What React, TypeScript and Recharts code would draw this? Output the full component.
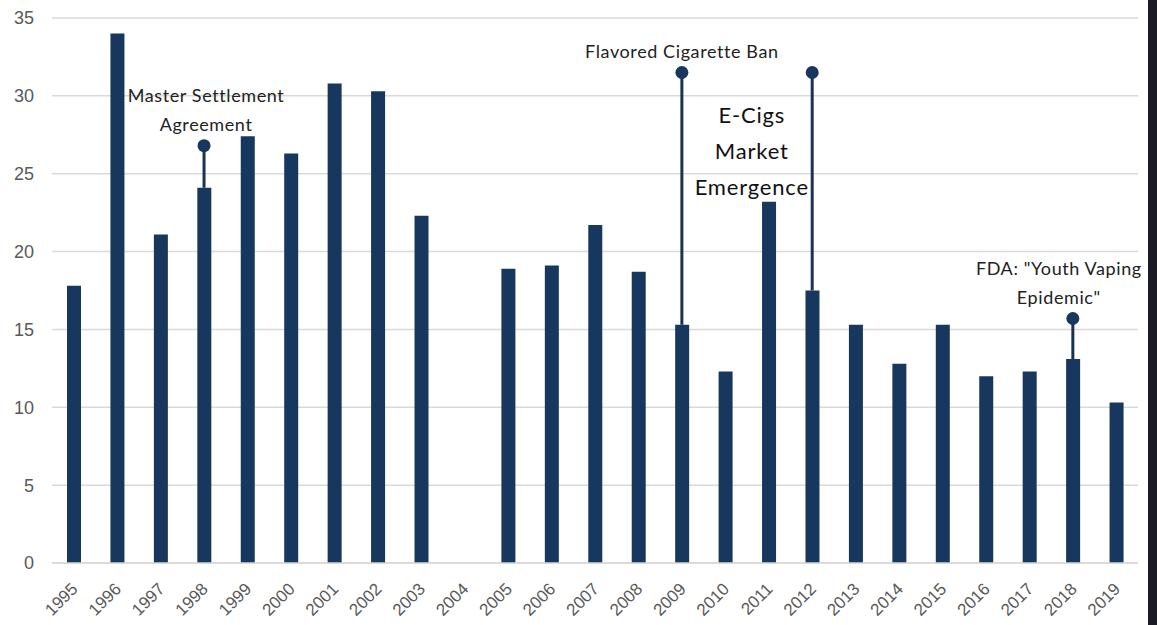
import { ComposedChart, Bar, XAxis, YAxis, CartesianGrid, ReferenceLine, ReferenceDot } from 'recharts'

const years = ['1995', '1996', '1997', '1998', '1999', '2000', '2001', '2002', '2003', '2004', '2005', '2006', '2007', '2008', '2009', '2010', '2011', '2012', '2013', '2014', '2015', '2016', '2017', '2018', '2019']
const rates = [17.8, 34.0, 21.1, 24.1, 27.4, 26.3, 30.8, 30.3, 22.3, 0, 18.9, 19.1, 21.7, 18.7, 15.3, 12.3, 23.2, 17.5, 15.3, 12.8, 15.3, 12.0, 12.3, 13.1, 10.3]
const yTicks = [0, 5, 10, 15, 20, 25, 30, 35]

// lollipop annotations
const markYears = ['1998', '2009', '2012', '2018']
const markTops = [26.8, 31.5, 31.5, 15.7]
const markLabels = [
  ['Master Settlement', 'Agreement'],
  ['Flavored Cigarette Ban'],
  [],
  ['FDA: "Youth Vaping', 'Epidemic"'],
]
const markLabelShift = [2, 0, 0, -14]

const emergenceYear = '2011'
const emergenceLines = ['E-Cigs', 'Market', 'Emergence']

const data = years.map((y, i) => ({ year: y, rate: rates[i] }))

const NAVY = '#17375E'
const LINE = '#1B3353'
const annFont = 'Lato, "Open Sans", sans-serif'

const XTick = (props: any) => {
  const { x, y, payload } = props
  const tx = x + 5
  const ty = y + 19
  return (
    <text x={tx} y={ty} textAnchor="end" fill="#595959" fontSize={17} fontFamily='"Liberation Sans", Arial, sans-serif' transform={`rotate(-45, ${tx}, ${ty})`}>
      {payload.value}
    </text>
  )
}

const MarkDot = (lines: string[], shift: number) => (props: any) => {
  const { cx, cy } = props
  const n = lines.length
  return (
    <g>
      <circle cx={cx} cy={cy} r={6.5} fill={NAVY} />
      {lines.map((t, i) => (
        <text key={i} x={cx + shift} y={cy - 15 - (n - 1 - i) * 29} textAnchor="middle" fill="#222" fontSize={18} letterSpacing={0.6} fontFamily={annFont}>
          {t}
        </text>
      ))}
    </g>
  )
}

const EmergenceText = (props: any) => {
  const { cx, cy } = props
  return (
    <g>
      {emergenceLines.map((t, i) => (
        <text key={i} x={cx - 17} y={cy + 105 + i * 36} textAnchor="middle" fill="#111" fontSize={22} letterSpacing={0.8} fontFamily={annFont}>
          {t}
        </text>
      ))}
    </g>
  )
}

export default function App() {
  return (
    <div style={{ position: 'relative', width: 1157, height: 625, background: '#fff', overflow: 'hidden' }}>
      <style>{`body{margin:0}`}</style>
      <ComposedChart width={1148} height={625} data={data} margin={{ top: 18, right: 10, left: 0, bottom: 0 }} barCategoryGap={0}>
        <CartesianGrid vertical={false} stroke="#D9D9D9" strokeWidth={1.5} />
        <XAxis dataKey="year" axisLine={{ stroke: '#D9D9D9', strokeWidth: 1.5 }} tickLine={false} interval={0} height={62} tick={<XTick />} />
        <YAxis domain={[0, 35]} ticks={yTicks} axisLine={false} tickLine={false} width={52} tick={{ fill: '#595959', fontSize: 18, fontFamily: '"Liberation Sans", Arial, sans-serif' }} dx={-10} />
        <Bar dataKey="rate" fill={NAVY} barSize={14} isAnimationActive={false} />
        {markYears.map((y, i) => (
          <ReferenceLine key={`l${y}`} segment={[{ x: y, y: rates[years.indexOf(y)] }, { x: y, y: markTops[i] }]} stroke={LINE} strokeWidth={3} />
        ))}
        {markYears.map((y, i) => (
          <ReferenceDot key={`d${y}`} x={y} y={markTops[i]} r={6.5} shape={MarkDot(markLabels[i], markLabelShift[i])} />
        ))}
        <ReferenceDot x={emergenceYear} y={35} r={0} shape={EmergenceText} />
      </ComposedChart>
      <div style={{ position: 'absolute', left: 1148, top: 0, width: 9, height: 625, background: '#1B1B25' }} />
    </div>
  )
}
